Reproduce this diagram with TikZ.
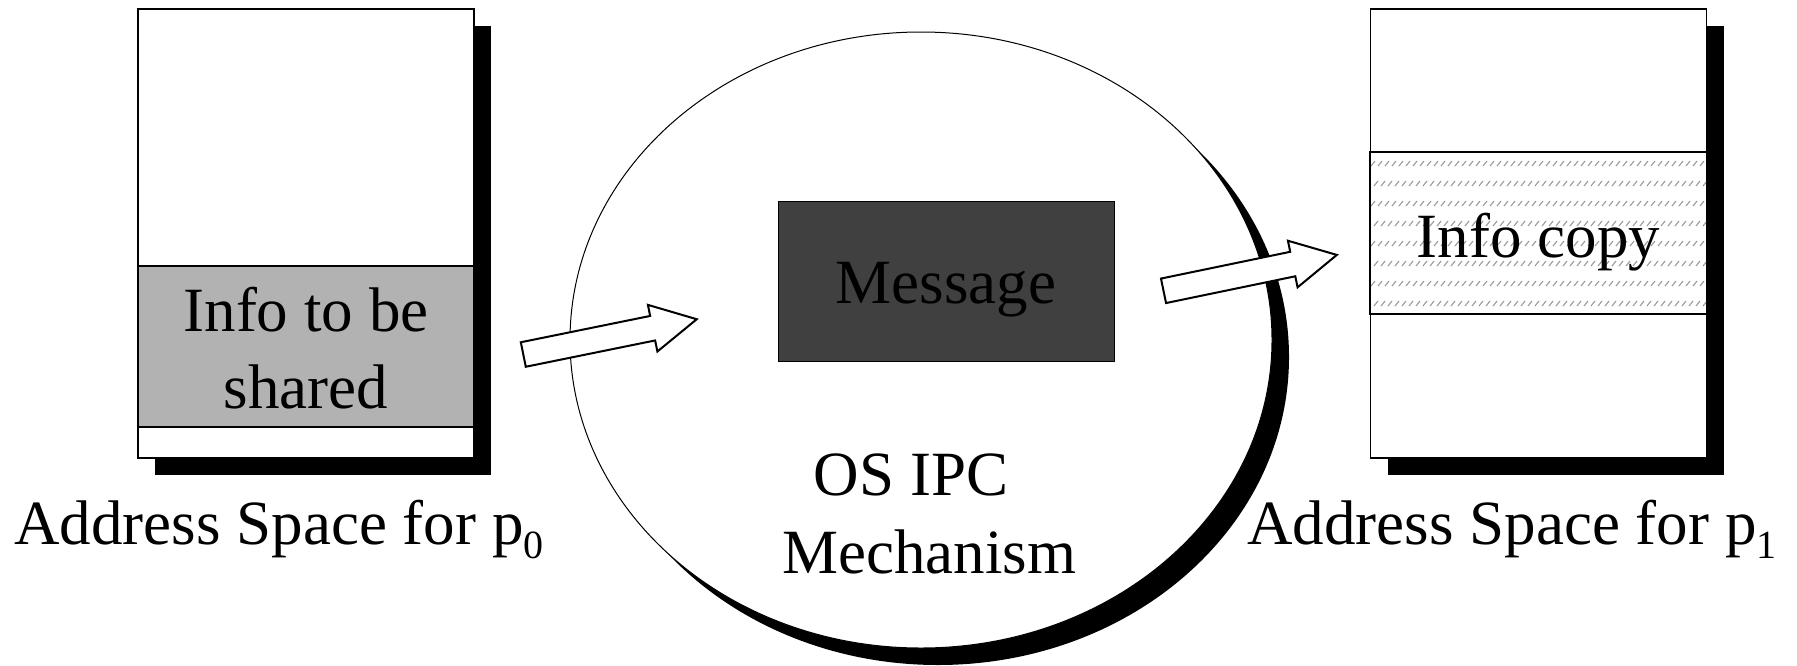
\documentclass[tikz,border=0pt]{standalone}
\usepackage{fontspec}
\setmainfont{Liberation Serif}
\usetikzlibrary{shapes.geometric,shadows}
\newcommand\procsub[1]{p\raisebox{-7pt}{\fontsize{20}{20}\selectfont #1}}
\begin{document}
\begin{tikzpicture}[x=0.5pt,y=-0.5pt,
  hardshadow/.style={drop shadow={fill=black,opacity=1,shadow xshift=8.5pt,shadow yshift=-8.5pt}},
  memory/.style={draw,line width=0.6pt,fill=white,minimum width=168pt,minimum height=224.5pt,inner sep=0pt,hardshadow},
  band/.style={draw,line width=0.6pt,minimum width=168pt,minimum height=80.5pt,inner sep=0pt},
  bigtext/.style={font=\fontsize{31.5}{38.5}\selectfont,inner sep=0pt},
  blockarrow/.style={draw,line width=1pt,fill=white,line join=miter},
  hatch/.style={draw=black!40,line width=0.55pt}
]
\useasboundingbox (0,0) rectangle (1797,665);

% OS mechanism (ellipse with hard shadow)
\node[ellipse,draw,line width=0.5pt,fill=white,minimum width=351pt,minimum height=308pt,inner sep=0pt,hardshadow] (os) at (921,340) {};

% message inside the OS
\node[draw,line width=0.5pt,fill=black!75,minimum width=168pt,minimum height=80pt,inner sep=0pt] (msg) at (946,281) {};
\node[bigtext,anchor=base] (msgtext) at (946,303) {Message};
\node[bigtext,anchor=base] (ipc1) at (911,495) {OS IPC};
\node[bigtext,anchor=base] (ipc2) at (929.5,573) {Mechanism};

% address space of p0
\node[memory] (as0) at (306,233.5) {};
\node[band,fill=black!30] (shared) at (306,346.5) {};
\node[bigtext,anchor=base,align=center] (sharedtext) at (306,408) {Info to be\\shared};
\node[bigtext,anchor=base west] (label0) at (14,544) {Address Space for \procsub{0}};

% address space of p1
\node[memory] (as1) at (1538.5,233.5) {};
\node[band,fill=white] (copy) at (1538.5,233) {};
\begin{scope}
  \clip (1371,153.5) rectangle (1706,312.5);
  \foreach \r in {0,...,7}
    \foreach \c in {0,...,48}
      \draw[hatch] ({1371+\c*7+mod(\r,2)*3},{166+\r*20}) -- ++(4,-5);
\end{scope}
\draw[line width=0.6pt] (copy.north west) rectangle (copy.south east);
\node[bigtext,anchor=base] (copytext) at (1538.5,257) {Info copy};
\node[bigtext,anchor=base west] (label1) at (1247,544) {Address Space for \procsub{1}};

% block arrows: p0 -> OS, OS -> p1
\draw[blockarrow,shift={(523.3,354.5)},rotate=11.5]
  (0,12.5) -- (132,12.5) -- (132,23.8) -- (177,0) -- (132,-23.8) -- (132,-12.5) -- (0,-12.5) -- cycle;
\draw[blockarrow,shift={(1163.5,290.8)},rotate=11.7]
  (0,12.5) -- (132,12.5) -- (132,23.8) -- (177,0) -- (132,-23.8) -- (132,-12.5) -- (0,-12.5) -- cycle;
\end{tikzpicture}
\end{document}
